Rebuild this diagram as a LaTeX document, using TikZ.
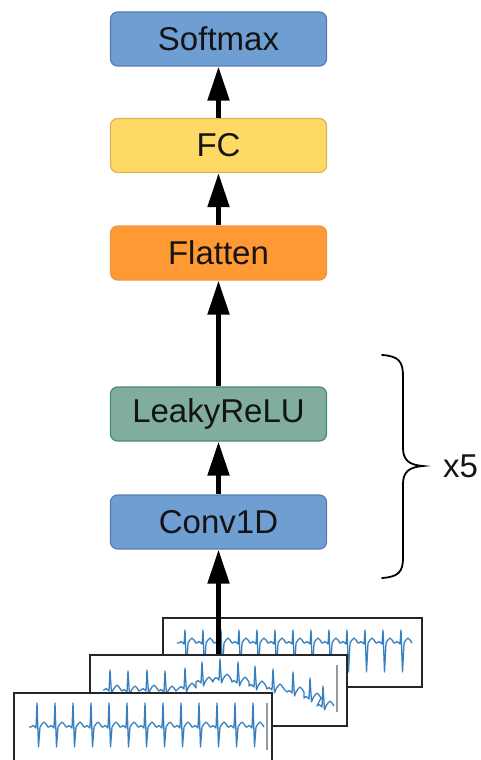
\documentclass[tikz,border=0pt]{standalone}
\usepackage{fontspec}
\setmainfont{Liberation Sans}
\usetikzlibrary{arrows.meta}

\definecolor{blueFill}{RGB}{111,158,211}
\definecolor{blueLine}{RGB}{86,126,180}
\definecolor{yellowFill}{RGB}{255,217,102}
\definecolor{yellowLine}{RGB}{214,182,86}
\definecolor{orangeFill}{RGB}{255,153,51}
\definecolor{orangeLine}{RGB}{235,150,70}
\definecolor{greenFill}{RGB}{128,173,160}
\definecolor{greenLine}{RGB}{74,140,104}
\definecolor{ecgBlue}{RGB}{55,128,192}
\definecolor{textDark}{RGB}{20,20,20}

\tikzset{
  layer/.style={rectangle, rounded corners=7pt, line width=1.2pt,
    minimum width=216pt, minimum height=54pt, inner sep=0pt,
    text=textDark, font=\fontsize{33}{40}\selectfont},
  flow/.style={line width=5pt, -{Triangle[length=34pt,width=21pt]}},
  ecgframe/.style={draw=black!85, fill=white, line width=1.4pt, inner sep=0pt},
  ecgline/.style={draw=ecgBlue, line width=1.3pt, line join=round},
  axisline/.style={draw=black!40, line width=1.2pt},
  bracket/.style={draw=black, line width=1.8pt, line cap=round}
}

% one trace of heartbeats: start point, list of beat x/baseline, R height, S depth
\newcommand\ecgtrace[5]{%
  \draw[ecgline] (#1,#2) \foreach \bx/\by in {#3} {
    -- (\bx,\by) -- ++(2,-1.5) -- ++(2,1.5) -- ++(1,1)
    -- ++(1,{-#4-1}) -- ++(1.5,{#4+#5}) -- ++(1.5,{-#5})
    -- ++(2,-3) -- ++(2,-2) -- ++(2,2) -- ++(2,3)
  };%
}

\begin{document}
\begin{tikzpicture}[x=1pt,y=-1pt]
\useasboundingbox (0,0) rectangle (481,760);

% network layers
\node[layer, fill=blueFill, draw=blueLine]     (softmax) at (218.5,39)  {Softmax};
\node[layer, fill=yellowFill, draw=yellowLine] (fc)      at (218.5,145.5) {FC};
\node[layer, fill=orangeFill, draw=orangeLine] (flatten) at (218.5,253) {Flatten};
\node[layer, fill=greenFill, draw=greenLine]   (relu)    at (218.5,414) {LeakyReLU};
\node[layer, fill=blueFill, draw=blueLine]     (conv)    at (218.5,522) {Conv1D};

% stacked input signals, back to front
\node[ecgframe, minimum width=259pt, minimum height=69pt] (ecgA) at (292.5,652.5) {};
\ecgtrace{177}{643}{179/643,197/643,215/643,233/643,251/643,269/643,287/643,305/643,323/643,341/643,359/643,377/643,395/643}{13}{29}

\node[ecgframe, minimum width=257pt, minimum height=71pt] (ecgB) at (218.5,690.5) {};
\ecgtrace{103}{690}{104/690,122/691,141/690,159/691,179/688,196/682,214/679,232/682,249/686,267/689,287/692,304/698,317/706}{20}{4}
\draw[axisline] (337,665) -- (337,712);

\node[ecgframe, minimum width=258pt, minimum height=80pt] (ecgC) at (143,733) {};
\ecgtrace{29}{727}{31/727,49/727,67/727,85/727,103/727,121/727,139/727,157/727,175/727,193/727,211/727,229/727,247/727}{24}{20}
\draw[axisline] (267,703) -- (267,750);

% data flow
\draw[flow] (ecgB.north) -- (conv.south);
\draw[flow] (conv.north) -- (relu.south);
\draw[flow] (relu.north) -- (flatten.south);
\draw[flow] (flatten.north) -- (fc.south);
\draw[flow] (fc.north) -- (softmax.south);

% repeated block marker
\draw[bracket] (382,355) .. controls (399,356) and (403,362) .. (403,376)
  -- (403,448) .. controls (403,460) and (409,465) .. (423,466)
  .. controls (409,467) and (403,472) .. (403,484)
  -- (403,558) .. controls (403,571) and (399,577) .. (382,578);
\node[font=\fontsize{33}{40}\selectfont, text=textDark, anchor=west, inner sep=0pt] (reps) at (443,466) {x5};
\end{tikzpicture}
\end{document}
